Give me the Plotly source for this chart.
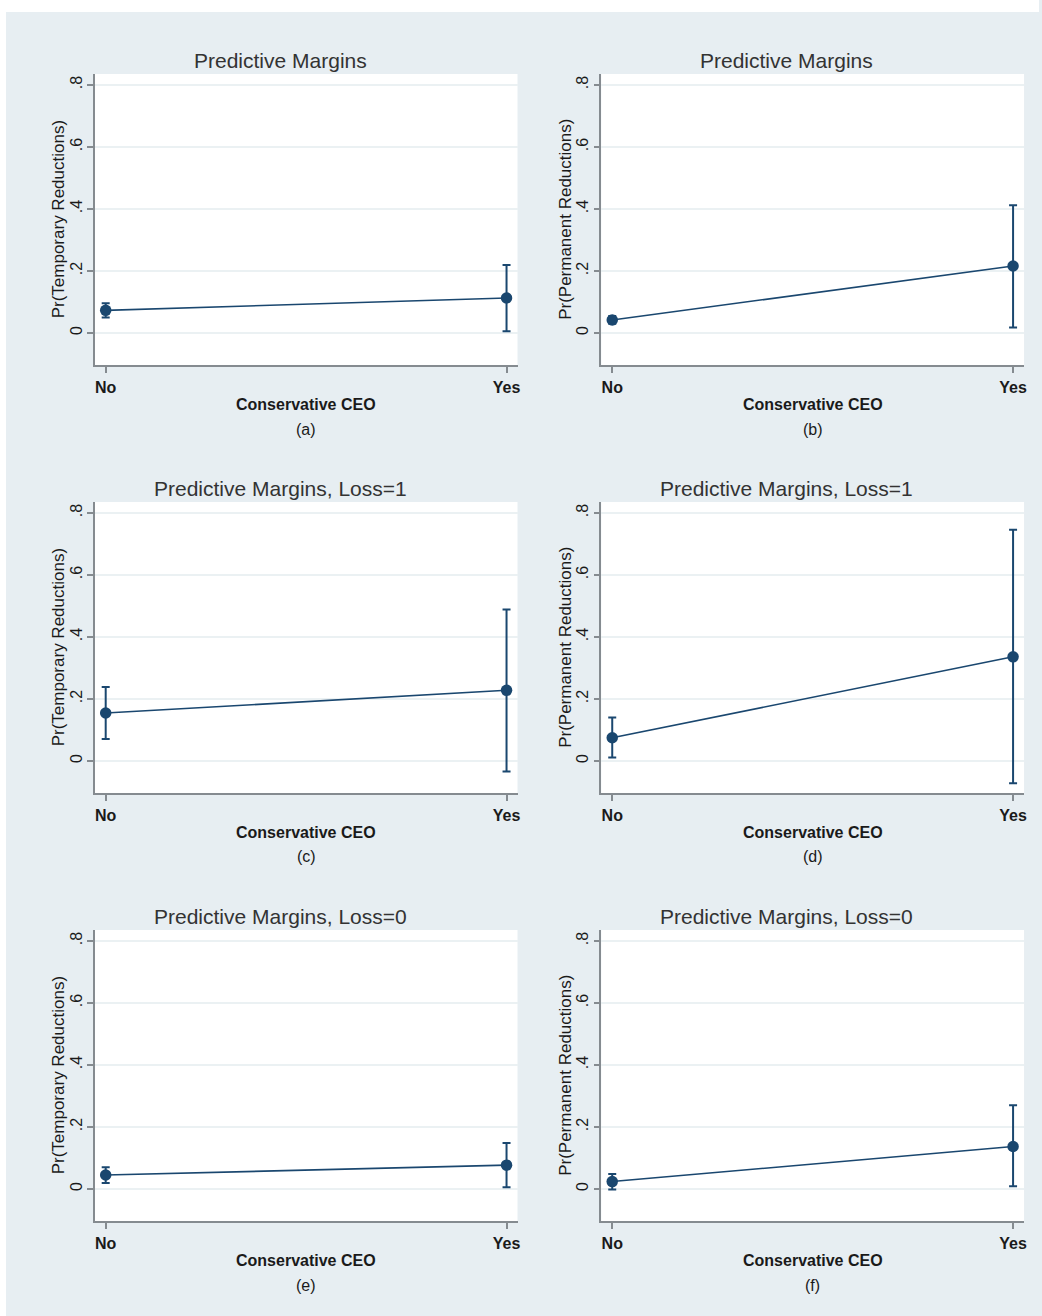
import plotly.graph_objects as go

# ---------------- data ----------------
categories = ["No", "Yes"]
ytick_vals = [0, 0.2, 0.4, 0.6, 0.8]
ytick_text = ["0", ".2", ".4", ".6", ".8"]

titles = ["Predictive Margins", "Predictive Margins",
          "Predictive Margins, Loss=1", "Predictive Margins, Loss=1",
          "Predictive Margins, Loss=0", "Predictive Margins, Loss=0"]
ytitles = ["Pr(Temporary Reductions)", "Pr(Permanent Reductions)"] * 3
xtitle = "Conservative CEO"
letters = ["(a)", "(b)", "(c)", "(d)", "(e)", "(f)"]

margin_a = [0.073, 0.113]
low_a = [0.050, 0.006]
high_a = [0.096, 0.219]

margin_b = [0.042, 0.216]
low_b = [0.030, 0.018]
high_b = [0.055, 0.412]

margin_c = [0.155, 0.228]
low_c = [0.071, -0.034]
high_c = [0.239, 0.489]

margin_d = [0.075, 0.336]
low_d = [0.011, -0.072]
high_d = [0.140, 0.746]

margin_e = [0.045, 0.077]
low_e = [0.019, 0.006]
high_e = [0.070, 0.148]

margin_f = [0.024, 0.137]
low_f = [-0.002, 0.009]
high_f = [0.048, 0.270]

series = [(margin_a, low_a, high_a), (margin_b, low_b, high_b),
          (margin_c, low_c, high_c), (margin_d, low_d, high_d),
          (margin_e, low_e, high_e), (margin_f, low_f, high_f)]

# ---------------- layout geometry (pixels) ----------------
W, H = 1042, 1316
col_left = [95, 603]
col_right = [519, 1027]
row_top = [74, 502, 930]
row_bottom = [365, 793, 1221]

NAVY = "#1a476f"
BG = "#e7eef2"
AXIS = "#858b90"
GRID = "#ebf1f3"
FONT = "Liberation Sans, Arial, sans-serif"

fig = go.Figure()
layout = dict(
    width=W, height=H,
    margin=dict(l=0, r=0, t=0, b=0),
    paper_bgcolor=BG, plot_bgcolor="white",
    showlegend=False,
    font=dict(family=FONT, color="#222222"),
)
annotations = []

for i, (m, lo, hi) in enumerate(series):
    r, c = divmod(i, 2)
    L, R = col_left[c], col_right[c]
    T, B = row_top[r], row_bottom[r]
    sfx = "" if i == 0 else str(i + 1)
    xa, ya = "x" + sfx, "y" + sfx
    fig.add_trace(go.Scatter(
        x=categories, y=m, mode="lines+markers",
        xaxis=xa, yaxis=ya,
        line=dict(color=NAVY, width=1.6),
        marker=dict(color=NAVY, size=11.5, symbol="circle"),
        error_y=dict(type="data", symmetric=False,
                     array=[h - v for h, v in zip(hi, m)],
                     arrayminus=[v - l for v, l in zip(m, lo)],
                     color=NAVY, thickness=2, width=4),
        hoverinfo="skip",
    ))
    py0 = B - 32   # pixel of y=0
    py8 = T + 11   # pixel of y=0.8
    k = 0.8 / (py0 - py8)
    yr = [-(B - py0) * k, 0.8 + (py8 - T) * k]
    kx = 1.0 / ((R - 11) - (L + 11))
    xr = [-11 * kx, 1 + 11 * kx]
    layout["xaxis" + sfx] = dict(
        domain=[L / W, R / W], anchor=ya, type="category",
        range=xr, showgrid=False, zeroline=False,
        showline=True, linecolor=AXIS, linewidth=1.5,
        ticks="outside", ticklen=6, tickcolor=AXIS, tickwidth=1.5,
        tickfont=dict(size=16, color="#1a1a1a", weight="bold"),
        ticklabelstandoff=1, fixedrange=True,
    )
    layout["yaxis" + sfx] = dict(
        domain=[1 - B / H, 1 - T / H], anchor=xa,
        range=yr, tickvals=ytick_vals, ticktext=ytick_text,
        tickangle=-90, showgrid=True, gridcolor=GRID, gridwidth=2,
        zeroline=False, showline=True, linecolor=AXIS, linewidth=1.5,
        ticks="outside", ticklen=6, tickcolor=AXIS, tickwidth=1.5,
        tickfont=dict(size=16, color="#1a1a1a"), fixedrange=True,
        ticklabelstandoff=-1,
    )
    cx = (L + R) / 2
    cy = (T + B) / 2
    annotations += [
        dict(text=titles[i], x=(cx - 26) / W, y=1 - (T - 14) / H,
             xref="paper", yref="paper", showarrow=False,
             xanchor="center", yanchor="middle",
             font=dict(size=21, color="#333333")),
        dict(text=ytitles[i], x=(L - 36) / W, y=1 - cy / H,
             xref="paper", yref="paper", showarrow=False, textangle=-90,
             xanchor="center", yanchor="middle",
             font=dict(size=17, color="#1a1a1a")),
        dict(text=xtitle, x=cx / W, y=1 - (B + 39) / H,
             xref="paper", yref="paper", showarrow=False,
             xanchor="center", yanchor="middle",
             font=dict(size=16, color="#1a1a1a", weight="bold")),
        dict(text=letters[i], x=cx / W, y=1 - (B + 64) / H,
             xref="paper", yref="paper", showarrow=False,
             xanchor="center", yanchor="middle",
             font=dict(size=16, color="#1a1a1a")),
    ]

layout["annotations"] = annotations
# white outer strips (top and left border of the image)
layout["shapes"] = [
    dict(type="rect", xref="paper", yref="paper", x0=0, x1=1,
         y0=1 - 12 / H, y1=1, fillcolor="white", line=dict(width=0), layer="above"),
    dict(type="rect", xref="paper", yref="paper", x0=0, x1=6 / W,
         y0=0, y1=1, fillcolor="white", line=dict(width=0), layer="above"),
]
fig.update_layout(**layout)
fig.write_html(
    "out.html",
    config={"displayModeBar": False},
    post_script="document.body.style.margin='0';"
                "document.documentElement.style.overflow='hidden';",
)
